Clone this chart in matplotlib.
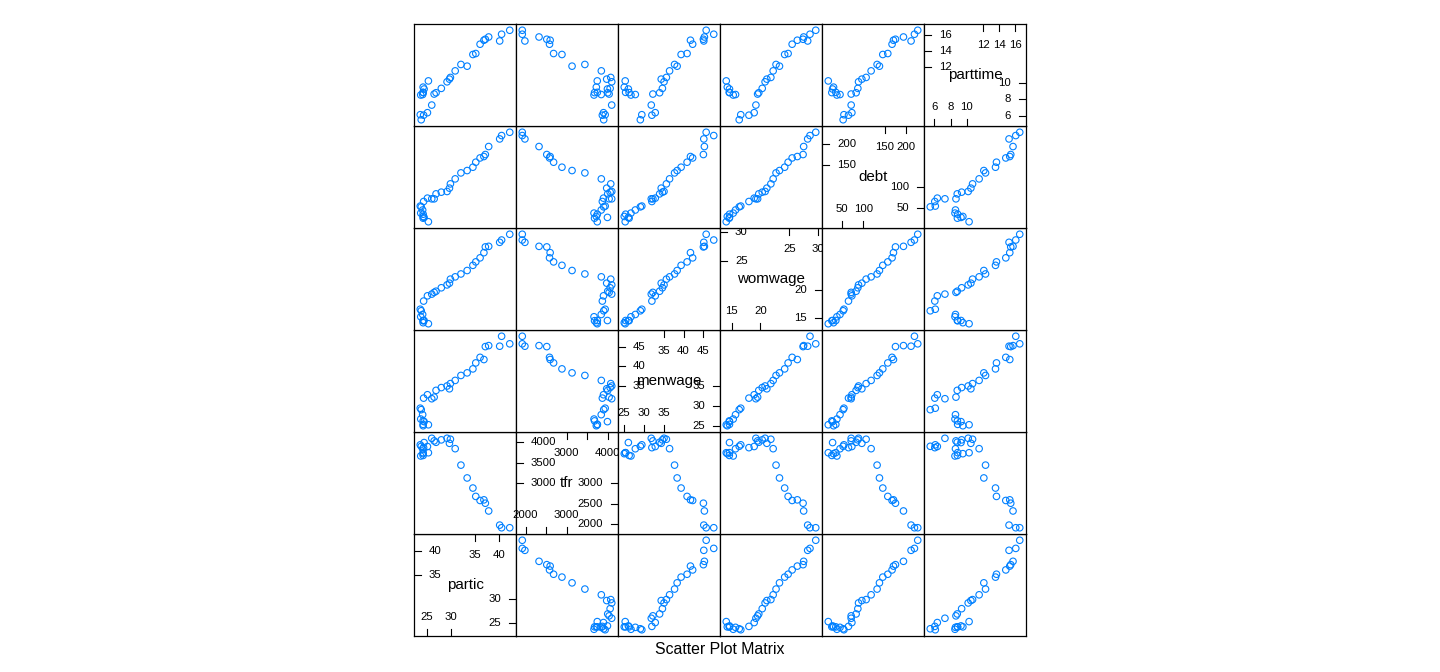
import numpy as np
import matplotlib
matplotlib.use('Agg')
import matplotlib.pyplot as plt
from matplotlib.transforms import blended_transform_factory

plt.rcParams['font.family'] = ['Liberation Sans', 'DejaVu Sans']

# Data (one row per year)
partic = [25.3, 24.4, 24.2, 24.2, 23.7, 24.2, 24.1, 23.8, 23.6, 24.3,
          25.1, 26.0, 26.5, 26.9, 28.0, 29.2, 29.7, 29.9, 30.9, 32.1,
          33.4, 34.6, 35.2, 36.1, 36.9, 37.2, 37.9, 40.2, 40.6, 42.3]
tfr = [3748, 3996, 3725, 3750, 3669, 3682, 3845, 3905, 3941, 3872,
       3900, 4100, 4037, 4003, 4062, 4101, 3978, 4077, 3847, 3446,
       3133, 2887, 2683, 2584, 2599, 2517, 2328, 1983, 1919, 1919]
menwage = [25.35, 26.14, 25.11, 25.45, 26.79, 26.33, 27.89, 29.15, 29.52, 32.05,
           32.9, 31.9, 32.3, 34.0, 34.7, 35.1, 34.4, 35.7, 36.5, 37.75,
           38.4, 39.4, 40.9, 42.3, 41.75, 45.0, 45.25, 45.1, 47.6, 45.7]
womwage = [14.05, 14.61, 14.23, 14.61, 15.26, 14.58, 15.66, 16.30, 16.57, 17.99,
           18.9, 19.2, 19.5, 19.7, 20.3, 20.8, 21.1, 21.8, 22.2, 22.7,
           23.3, 24.2, 24.8, 25.5, 26.4, 27.4, 27.5, 28.2, 28.6, 29.6]
debt = [18.18, 28.33, 30.55, 35.81, 38.39, 26.52, 45.65, 52.99, 54.84, 65.53,
        73.4, 71.8, 71.8, 83.4, 87.4, 89.0, 96.8, 106.8, 118.5, 132.5,
        138.0, 145.8, 157.5, 167.5, 170.8, 175.5, 194.2, 212.0, 219.9, 227.6]
parttime = [10.28, 9.28, 9.51, 8.87, 8.54, 8.84, 8.60, 5.49, 6.11, 6.05,
            6.36, 7.30, 8.66, 8.82, 9.36, 10.17, 10.5, 10.71, 11.52, 12.31,
            12.10, 13.54, 13.66, 14.81, 15.30, 15.42, 15.70, 15.21, 16.04, 16.53]

names = ['partic', 'tfr', 'menwage', 'womwage', 'debt', 'parttime']
data = [partic, tfr, menwage, womwage, debt, parttime]
ticks = [[25, 30, 35, 40],
         [2000, 2500, 3000, 3500, 4000],
         [25, 30, 35, 40, 45],
         [15, 20, 25, 30],
         [50, 100, 150, 200],
         [6, 8, 10, 12, 14, 16]]

W, H = 1440.0, 672.0
x0, y0, size = 414, 24, 102   # panel block, pixels
blue = '#0080ff'
tick_fs = 8.2

fig = plt.figure(figsize=(14.4, 6.72), dpi=100)
renderer = fig.canvas.get_renderer()


def lims(v):
    v = np.asarray(v, float)
    r = v.max() - v.min()
    return v.min() - 0.07 * r, v.max() + 0.07 * r


def hlabels(ax, vals, ypos, trans):
    # drop labels that would overlap the previous one (like check.overlap)
    last = None
    for a in vals:
        t = ax.text(a, ypos, str(a), transform=trans, ha='center',
                    va='center', fontsize=tick_fs)
        bb = t.get_window_extent(renderer)
        if last is not None and bb.x0 < last.x1:
            t.remove()
        else:
            last = bb


def diag(ax, name, at):
    mid = np.mean(at)
    hi = [a for a in at if a >= mid]
    lo = [a for a in at if a <= mid]
    tk = 7.0 / size
    tx = blended_transform_factory(ax.transData, ax.transAxes)
    ty = blended_transform_factory(ax.transAxes, ax.transData)
    # left (upper half) and right (lower half)
    for a in hi:
        ax.plot([0, tk], [a, a], transform=ty, color='k', lw=0.8)
        ax.text(15.0 / size, a, str(a), transform=ty, ha='left',
                va='center', fontsize=tick_fs)
    for a in lo:
        ax.plot([1 - tk, 1], [a, a], transform=ty, color='k', lw=0.8)
        ax.text(1 - 15.0 / size, a, str(a), transform=ty, ha='right',
                va='center', fontsize=tick_fs)
    # top (upper half) and bottom (lower half)
    for a in hi:
        ax.plot([a, a], [1 - tk, 1], transform=tx, color='k', lw=0.8)
    for a in lo:
        ax.plot([a, a], [0, tk], transform=tx, color='k', lw=0.8)
    hlabels(ax, hi, 1 - 21.0 / size, tx)
    hlabels(ax, lo, 19.0 / size, tx)
    ax.text(0.5, 0.5, name, transform=ax.transAxes, ha='center',
            va='center', fontsize=10.9)


n = len(names)
for i in range(n):          # row, counted from the bottom
    for j in range(n):      # column
        left = (x0 + j * size) / W
        bottom = 1 - (y0 + (n - i) * size) / H
        ax = fig.add_axes([left, bottom, size / W, size / H])
        ax.set_xlim(lims(data[j]))
        ax.set_ylim(lims(data[i]))
        ax.set_xticks([])
        ax.set_yticks([])
        for s in ax.spines.values():
            s.set_linewidth(0.9)
        if i == j:
            diag(ax, names[i], ticks[i])
        else:
            ax.scatter(data[j], data[i], s=22, facecolors='none',
                       edgecolors=blue, linewidths=0.8)

fig.text(0.5, 1 - 650 / H, 'Scatter Plot Matrix', ha='center',
         va='center', fontsize=11.4)

fig.savefig('out.png', dpi=100)
